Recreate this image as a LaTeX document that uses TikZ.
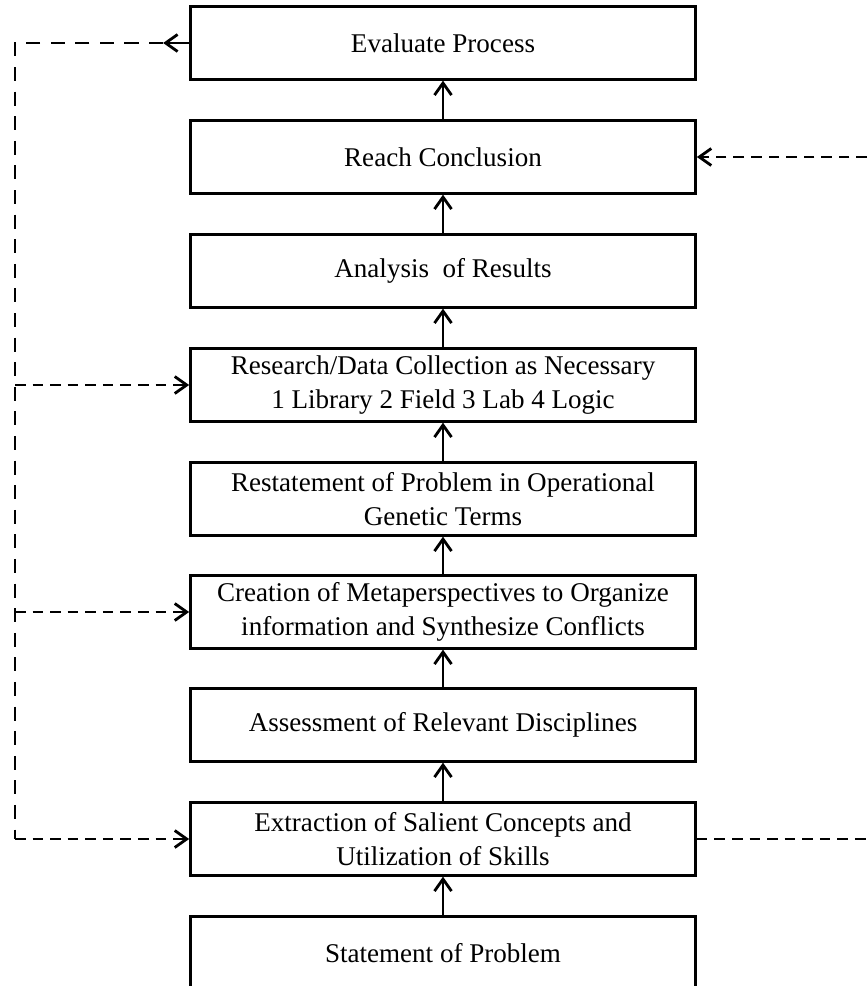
\documentclass[tikz,border=0pt]{standalone}
\usepackage{fontspec}
\setmainfont{Liberation Serif}
\usetikzlibrary{arrows.meta,positioning}

\begin{document}
\begin{tikzpicture}[x=0.02cm, y=-0.02cm,
stepbox/.style={draw, line width=1.6pt, minimum width=10.1cm, minimum height=1.45cm,
align=center, inner sep=2pt, font=\fontsize{15.4}{19.3}\selectfont},
arrow/.style={-{Straight Barb[length=2.4mm, width=3.4mm]}, line width=1.6pt},
darrow/.style={arrow, dash pattern=on 6pt off 4pt},
dline/.style={line width=1.6pt, dash pattern=on 6pt off 4pt}
]
\clip (0,0) rectangle (867,986);

\node[stepbox] (eval) at (443,43)  {Evaluate Process};
\node[stepbox] (concl) at (443,157) {Reach Conclusion};
\node[stepbox] (anal) at (443,271)  {Analysis\ \ of Results};
\node[stepbox] (rsrch) at (443,385) {Research/Data Collection as Necessary\\1 Library 2 Field 3 Lab 4 Logic};
\node[stepbox] (restate) at (443,499) {Restatement of Problem in Operational\\Genetic Terms};
\node[stepbox] (meta) at (443,612)  {Creation of Metaperspectives to Organize\\information and Synthesize Conflicts};
\node[stepbox] (assess) at (443,725) {Assessment of Relevant Disciplines};
\node[stepbox] (extr) at (443,839)  {Extraction of Salient Concepts and\\Utilization of Skills};
\node[stepbox] (stmt) at (443,953)  {Statement of Problem};

\draw[arrow] (stmt.north) -- (extr.south);
\draw[arrow] (extr.north) -- (assess.south);
\draw[arrow] (assess.north) -- (meta.south);
\draw[arrow] (meta.north) -- (restate.south);
\draw[arrow] (restate.north) -- (rsrch.south);
\draw[arrow] (rsrch.north) -- (anal.south);
\draw[arrow] (anal.north) -- (concl.south);
\draw[arrow] (concl.north) -- (eval.south);

% feedback loop on the left
\coordinate[left=0.52cm of eval.west] (etip);
\coordinate (ltop) at (15,43);
\coordinate (lbot) at (15,839);
\draw[arrow] (eval.west) -- (etip);
\draw[dline, dash pattern=on 8pt off 6pt] (etip) -- (ltop) -- (lbot);
\draw[darrow] (lbot) -- (extr.west);
\draw[darrow] (rsrch.west -| ltop) -- (rsrch.west);
\draw[darrow] (meta.west -| ltop) -- (meta.west);

% lines on the right
\coordinate (rtop) at (867,157);
\coordinate (rbot) at (867,842);
\draw[darrow] (rtop) -- (concl.east);
\draw[dline] (extr.east) -- (extr.east -| rbot);

\end{tikzpicture}
\end{document}
